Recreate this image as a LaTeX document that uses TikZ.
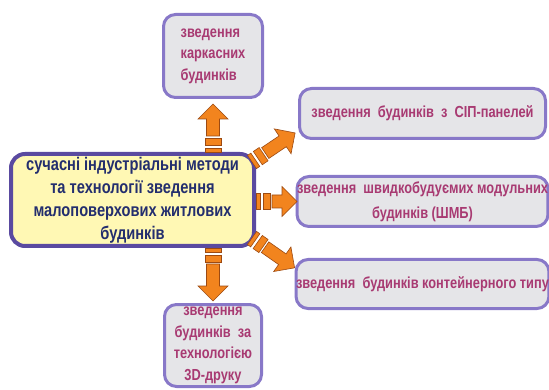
\documentclass[tikz,border=0pt]{standalone}
\usepackage{fontspec}
\setmainfont{Liberation Sans}[FakeStretch=0.8]
\usetikzlibrary{calc}
\definecolor{cfill}{HTML}{FFF8B4}
\definecolor{cline}{HTML}{5A4AA0}
\definecolor{ctext}{HTML}{232E6E}
\definecolor{gfill}{HTML}{E5E5E8}
\definecolor{gline}{HTML}{8878C8}
\definecolor{gtext}{HTML}{A83A72}
\definecolor{afill}{HTML}{F2841E}
\definecolor{aline}{HTML}{9C4A12}
\tikzset{
  cbox/.style={draw=cline, fill=cfill, line width=4pt, rounded corners=14pt,
    text=ctext, font=\bfseries\fontsize{18.3}{23}\selectfont, align=center, inner sep=0pt},
  gbox/.style={draw=gline, fill=gfill, line width=3pt, rounded corners=12pt,
    text=gtext, font=\bfseries\fontsize{16}{21.5}\selectfont, align=center, inner sep=0pt},
  arrpart/.style={fill=afill, draw=aline, line width=0.6pt, line join=miter},
  pics/sarr/.style={code={
    \filldraw[arrpart] (0,-8) rectangle (4,8);
    \filldraw[arrpart] (7,-8) rectangle (14,8);
    \filldraw[arrpart] (16,-6.5) -- (#1-15,-6.5) -- (#1-15,-15) -- (#1,0)
       -- (#1-15,15) -- (#1-15,6.5) -- (16,6.5) -- cycle;
  }},
}
\begin{document}
\begin{tikzpicture}[x=1pt,y=-1pt]
\useasboundingbox (0,0) rectangle (549,390);
% central box
\node[cbox, minimum width=243pt, minimum height=92pt] (c) at (132.5,200)
  {сучасні індустріальні методи\\та технології зведення\\малоповерхових житлових\\будинків};
% top and bottom boxes
\node[gbox, minimum width=99pt, minimum height=83pt, align=left] (t) at (213,56)
  {зведення\\каркасних\\будинків};
\node[gbox, minimum width=97pt, minimum height=82pt] (b) at (213,345.5)
  {зведення\\будинків\ \ за\\технологією\\3D-друку};
% right boxes
\node[gbox, minimum width=246pt, minimum height=50pt] (r1) at (422.5,113.5)
  {зведення\ \ будинків\ \ з\ \ СІП-панелей};
\node[gbox, minimum width=246pt, minimum height=50pt, font=\bfseries\fontsize{16}{25}\selectfont] (r2) at (422.5,201.5)
  {зведення\ \ швидкобудуємих модульних\\будинків (ШМБ)};
\node[gbox, minimum width=246pt, minimum height=49pt] (r3) at (422.5,284)
  {зведення\ \ будинків контейнерного типу};
% arrow start points on the central box
\coordinate (sUp) at (c.north -| t);
\coordinate (sDn) at (c.south -| b);
\coordinate (sR)  at (c.east |- r2);
\coordinate (sUR) at ($(c.north east)+(-4,10)$);
\coordinate (sDR) at ($(c.south east)+(-4,-10)$);
% striped arrows
\pic[rotate=90]  at (sUp) {sarr=48};
\pic[rotate=-90] at (sDn) {sarr=53};
\pic             at (sR)  {sarr=41};
\pic[rotate=34]  at (sUR) {sarr=52};
\pic[rotate=-35] at (sDR) {sarr=52};
\end{tikzpicture}
\end{document}
